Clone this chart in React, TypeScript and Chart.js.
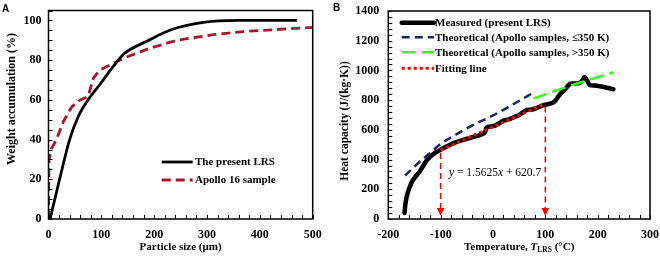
import { useEffect, useRef } from 'react';
import { Chart, registerables } from 'chart.js';

Chart.register(...registerables);

const SERIF = '"Liberation Serif", "Times New Roman", serif';

// ---- Panel A: cumulative particle-size distribution ----
const lrsSize = [3, 21, 40, 57, 75, 98, 123, 142, 186, 232, 293, 360, 470];
const lrsWeight = [0, 20, 40, 52, 60, 68, 77, 83, 89.5, 95.3, 99, 100, 100];
const apolloSize = [0, 1, 6, 15, 28, 44, 60, 75, 85, 97, 142, 192, 243, 312, 369, 500];
const apolloWeight = [0, 30, 35.6, 40, 49, 56.5, 60, 61.7, 71, 75, 81, 86, 90, 92.8, 94.4, 96.5];
const sizeTicks = [0, 100, 200, 300, 400, 500];
const weightTicks = [0, 20, 40, 60, 80, 100];

// ---- Panel B: heat capacity vs temperature ----
const measuredT = [
  -169, -168, -166, -163, -159, -155, -149, -140, -132, -126, -118, -110, -101, -90, -80, -70,
  -57, -45, -35, -25, -18, -15, -13, -10, 0, 5, 12, 20, 30, 40, 50, 58, 65, 75, 85, 95, 105,
  113, 120, 128, 135, 142, 147, 155, 165, 170, 175, 180, 185, 195, 210, 220, 230,
];
const measuredCp = [
  40, 80, 130, 175, 215, 250, 280, 320, 365, 397, 425, 447, 465, 485, 503, 517,
  532, 545, 555, 565, 575, 585, 610, 620, 625, 630, 645, 662, 670, 685, 700, 720, 735, 737, 750, 765, 773,
  780, 800, 840, 862, 890, 910, 912, 915, 930, 955, 930, 902, 898, 890, 882, 873,
];
const theoLowT = [-168, -140, -120, -100, -75, -50, -25, 0, 25, 50, 77];
const theoLowCp = [292, 385, 445, 505, 560, 610, 655, 697, 745, 795, 850];
const theoHighT = [77, 150, 230];
const theoHighCp = [812, 900, 988];
const fitSlope = 1.5625;
const fitIntercept = 620.7;
const fitRange = [-100, 100];
const tempTicks = [-200, -100, 0, 100, 200, 300];
const cpTicks = [0, 200, 400, 600, 800, 1000, 1200, 1400];

type LegendEntry = { label: string; color: string; width: number; dash: number[]; cap?: CanvasLineCap };

const tickFont = { family: SERIF, size: 12, weight: 'bold' as const };
const titleFont = { family: SERIF, size: 11, weight: 'bold' as const };
const plainLabel = (v: any) => String(v);

function pts(xs: number[], ys: number[]) {
  return xs.map((x, i) => ({ x, y: ys[i] }));
}

// Keep the plot area exactly where the layout padding puts it.
function fixSize(prop: 'width' | 'height', size: number) {
  return (s: any) => {
    s[prop] = size;
    s.paddingLeft = 0;
    s.paddingRight = 0;
    s.paddingTop = 0;
    s.paddingBottom = 0;
  };
}

// Box around the plot area plus inward major/minor tick marks on the bottom and left edges.
function frameTicksPlugin(xMinor: number, yMinor: number) {
  return {
    id: 'frameTicks',
    afterDatasetsDraw(chart: any) {
      const { ctx, chartArea, scales } = chart;
      const { left, right, top, bottom } = chartArea;
      const xs = scales.x;
      const ys = scales.y;
      ctx.save();
      ctx.strokeStyle = '#000';
      ctx.lineWidth = 1;
      ctx.beginPath();
      for (let v = xs.min; v <= xs.max + 1e-6; v += xMinor) {
        const px = Math.round(xs.getPixelForValue(v)) + 0.5;
        ctx.moveTo(px, bottom);
        ctx.lineTo(px, bottom - 4);
      }
      for (let v = ys.min; v <= ys.max + 1e-6; v += yMinor) {
        const py = Math.round(ys.getPixelForValue(v)) + 0.5;
        ctx.moveTo(left, py);
        ctx.lineTo(left + 4, py);
      }
      ctx.stroke();
      ctx.lineWidth = 1.5;
      ctx.strokeRect(left, top, right - left, bottom - top);
      ctx.restore();
    },
  };
}

// Rotated y-axis title placed at a fixed centre.
function yTitlePlugin(text: string, x: number, cy: number, size: number) {
  return {
    id: 'yTitle',
    afterDraw(chart: any) {
      const { ctx } = chart;
      ctx.save();
      ctx.translate(x, cy);
      ctx.rotate(-Math.PI / 2);
      ctx.fillStyle = '#000';
      ctx.font = `bold ${size}px ${SERIF}`;
      ctx.textAlign = 'center';
      ctx.textBaseline = 'middle';
      ctx.fillText(text, 0, 0);
      ctx.restore();
    },
  };
}

function legendPlugin(entries: LegendEntry[], x0: number, x1: number, textX: number, ys: number[], size: number) {
  return {
    id: 'boxLegend',
    afterDraw(chart: any) {
      const { ctx } = chart;
      ctx.save();
      entries.forEach((e, i) => {
        const y = ys[i];
        ctx.beginPath();
        ctx.strokeStyle = e.color;
        ctx.lineWidth = e.width;
        ctx.setLineDash(e.dash);
        ctx.lineCap = e.cap ?? 'butt';
        ctx.moveTo(x0, y);
        ctx.lineTo(x1, y);
        ctx.stroke();
        ctx.setLineDash([]);
        ctx.fillStyle = '#000';
        ctx.font = `bold ${size}px ${SERIF}`;
        ctx.textAlign = 'left';
        ctx.textBaseline = 'middle';
        ctx.fillText(e.label, textX, y + 0.5);
      });
      ctx.restore();
    },
  };
}

function panelLetter(letter: string, x: number, y: number) {
  return {
    id: 'panelLetter',
    afterDraw(chart: any) {
      const { ctx } = chart;
      ctx.save();
      ctx.fillStyle = '#000';
      ctx.font = 'bold 10px "Liberation Sans", Arial, sans-serif';
      ctx.textAlign = 'left';
      ctx.textBaseline = 'top';
      ctx.fillText(letter, x, y);
      ctx.restore();
    },
  };
}

// Fitting-range markers, equation text and the x-axis title with subscript for panel B.
const heatExtras = {
  id: 'heatExtras',
  afterDraw(chart: any) {
    const { ctx, scales, chartArea } = chart;
    const xs = scales.x;
    const ys = scales.y;
    ctx.save();
    ctx.strokeStyle = '#FF0000';
    ctx.fillStyle = '#FF0000';
    fitRange.forEach((t) => {
      const px = xs.getPixelForValue(t);
      const yStart = ys.getPixelForValue(fitSlope * t + fitIntercept) + 3;
      const tip = chartArea.bottom - 3;
      const headTop = tip - 8;
      ctx.beginPath();
      ctx.lineWidth = 1.5;
      ctx.setLineDash([6, 4]);
      ctx.moveTo(px, yStart);
      ctx.lineTo(px, headTop);
      ctx.stroke();
      ctx.setLineDash([]);
      ctx.beginPath();
      ctx.moveTo(px - 3.8, headTop);
      ctx.lineTo(px + 3.8, headTop);
      ctx.lineTo(px, tip);
      ctx.closePath();
      ctx.fill();
    });

    // equation of the fitting line
    ctx.fillStyle = '#000';
    ctx.textBaseline = 'middle';
    ctx.textAlign = 'left';
    let x = xs.getPixelForValue(-84);
    const y = ys.getPixelForValue(310);
    const parts: [string, string][] = [
      ['y', 'italic'],
      [' = ' + fitSlope.toFixed(4), 'normal'],
      ['x', 'italic'],
      [' + ' + fitIntercept.toFixed(1), 'normal'],
    ];
    parts.forEach(([s, st]) => {
      ctx.font = `${st} 11.5px ${SERIF}`;
      ctx.fillText(s, x, y);
      x += ctx.measureText(s).width;
    });

    // x-axis title: Temperature, T_LRS (°C)
    const segs: [string, string, number, number][] = [
      ['Temperature, ', 'bold', 11, 0],
      ['T', 'italic bold', 11, 0],
      ['LRS', 'bold', 7.5, 3],
      [' (°C)', 'bold', 11, 0],
    ];
    let total = 0;
    segs.forEach(([s, st, sz]) => {
      ctx.font = `${st} ${sz}px ${SERIF}`;
      total += ctx.measureText(s).width;
    });
    let tx = (chartArea.left + chartArea.right) / 2 - total / 2;
    const ty = 247;
    segs.forEach(([s, st, sz, dy]) => {
      ctx.font = `${st} ${sz}px ${SERIF}`;
      ctx.fillText(s, tx, ty + dy);
      tx += ctx.measureText(s).width;
    });
    ctx.restore();
  },
};

export default function App() {
  const refA = useRef<HTMLCanvasElement>(null);
  const refB = useRef<HTMLCanvasElement>(null);

  useEffect(() => {
    const lrsColor = '#000000';
    const apolloColor = '#A8162C';

    const chartA = new Chart(refA.current as HTMLCanvasElement, {
      type: 'line',
      data: {
        datasets: [
          {
            label: 'The present LRS',
            data: pts(lrsSize, lrsWeight),
            borderColor: lrsColor,
            borderWidth: 2.8,
            pointRadius: 0,
            cubicInterpolationMode: 'monotone',
            order: 0,
          },
          {
            label: 'Apollo 16 sample',
            data: pts(apolloSize, apolloWeight),
            borderColor: apolloColor,
            borderWidth: 2.8,
            borderDash: [9, 5],
            pointRadius: 0,
            tension: 0,
            order: 1,
          },
        ],
      },
      options: {
        animation: false,
        responsive: false,
        layout: { padding: { left: 0, right: 17.3, top: 10.5, bottom: 0 } },
        plugins: { legend: { display: false }, tooltip: { enabled: false } },
        scales: {
          x: {
            type: 'linear',
            min: 0,
            max: 500,
            afterBuildTicks: (s: any) => {
              s.ticks = sizeTicks.map((value) => ({ value }));
            },
            grid: { display: false, drawTicks: false },
            border: { display: false },
            ticks: { padding: 9, color: '#000', font: tickFont, callback: plainLabel },
            title: { display: true, text: 'Particle size (μm)', color: '#000', font: titleFont, padding: { top: 0, bottom: 3 } },
            afterFit: fixSize('height', 38),
          },
          y: {
            type: 'linear',
            min: 0,
            max: 105,
            afterBuildTicks: (s: any) => {
              s.ticks = weightTicks.map((value) => ({ value }));
            },
            grid: { display: false, drawTicks: false },
            border: { display: false },
            ticks: { padding: 7, color: '#000', font: tickFont, callback: plainLabel },
            afterFit: fixSize('width', 48.5),
          },
        },
      },
      plugins: [
        frameTicksPlugin(20, 5),
        yTitlePlugin('Weight accumulation (%)', 12, 99, 12),
        legendPlugin(
          [
            { label: 'The present LRS', color: lrsColor, width: 2.8, dash: [] },
            { label: 'Apollo 16 sample', color: apolloColor, width: 2.8, dash: [9, 5] },
          ],
          161.7,
          192.7,
          195,
          [162, 180],
          11,
        ),
        panelLetter('A', 2, 4),
      ],
    });

    const measuredColor = '#000000';
    const lowColor = '#1B2366';
    const highColor = '#33FF1A';
    const fitColor = '#FF0000';

    const fitPts = fitRange.map((t) => ({ x: t, y: fitSlope * t + fitIntercept }));

    const chartB = new Chart(refB.current as HTMLCanvasElement, {
      type: 'line',
      data: {
        datasets: [
          {
            label: 'Fitting line',
            data: fitPts,
            borderColor: fitColor,
            borderWidth: 3,
            borderDash: [3, 3],
            pointRadius: 0,
            order: 0,
          },
          {
            label: 'Theoretical (Apollo samples, ≤350 K)',
            data: pts(theoLowT, theoLowCp),
            borderColor: lowColor,
            borderWidth: 2.5,
            borderDash: [8, 5],
            pointRadius: 0,
            cubicInterpolationMode: 'monotone',
            order: 1,
          },
          {
            label: 'Theoretical (Apollo samples, >350 K)',
            data: pts(theoHighT, theoHighCp),
            borderColor: highColor,
            borderWidth: 2.5,
            borderDash: [14, 6],
            pointRadius: 0,
            order: 2,
          },
          {
            label: 'Measured (present LRS)',
            data: pts(measuredT, measuredCp),
            borderColor: measuredColor,
            borderWidth: 4.5,
            borderJoinStyle: 'round',
            borderCapStyle: 'round',
            pointRadius: 0,
            tension: 0.2,
            order: 3,
          },
        ],
      },
      options: {
        animation: false,
        responsive: false,
        layout: { padding: { left: 0, right: 10, top: 11, bottom: 0 } },
        plugins: { legend: { display: false }, tooltip: { enabled: false } },
        scales: {
          x: {
            type: 'linear',
            min: -200,
            max: 300,
            afterBuildTicks: (s: any) => {
              s.ticks = tempTicks.map((value) => ({ value }));
            },
            grid: { display: false, drawTicks: false },
            border: { display: false },
            ticks: { padding: 9, color: '#000', font: tickFont, callback: plainLabel },
            afterFit: fixSize('height', 38),
          },
          y: {
            type: 'linear',
            min: 0,
            max: 1400,
            afterBuildTicks: (s: any) => {
              s.ticks = cpTicks.map((value) => ({ value }));
            },
            grid: { display: false, drawTicks: false },
            border: { display: false },
            ticks: { padding: 9, color: '#000', font: tickFont, callback: plainLabel },
            afterFit: fixSize('width', 58.3),
          },
        },
      },
      plugins: [
        frameTicksPlugin(20, 40),
        yTitlePlugin('Heat capacity (J/(kg·K))', 15, 121, 11.5),
        legendPlugin(
          [
            { label: 'Measured (present LRS)', color: measuredColor, width: 4.5, dash: [], cap: 'round' },
            { label: 'Theoretical (Apollo samples, ≤350 K)', color: lowColor, width: 2.5, dash: [8, 5] },
            { label: 'Theoretical (Apollo samples, >350 K)', color: highColor, width: 2.5, dash: [14, 6] },
            { label: 'Fitting line', color: fitColor, width: 3, dash: [3, 3] },
          ],
          71.7,
          104,
          105,
          [22.7, 37.3, 52.3, 68.3],
          11,
        ),
        heatExtras,
        panelLetter('B', 3, 3),
      ],
    });

    return () => {
      chartA.destroy();
      chartB.destroy();
    };
  }, []);

  return (
    <div style={{ position: 'fixed', left: 0, top: 0, width: 660, height: 257, background: '#fff' }}>
      <canvas ref={refA} width={330} height={257} style={{ position: 'absolute', left: 0, top: 0, width: 330, height: 257 }} />
      <canvas ref={refB} width={330} height={257} style={{ position: 'absolute', left: 330, top: 0, width: 330, height: 257 }} />
    </div>
  );
}
